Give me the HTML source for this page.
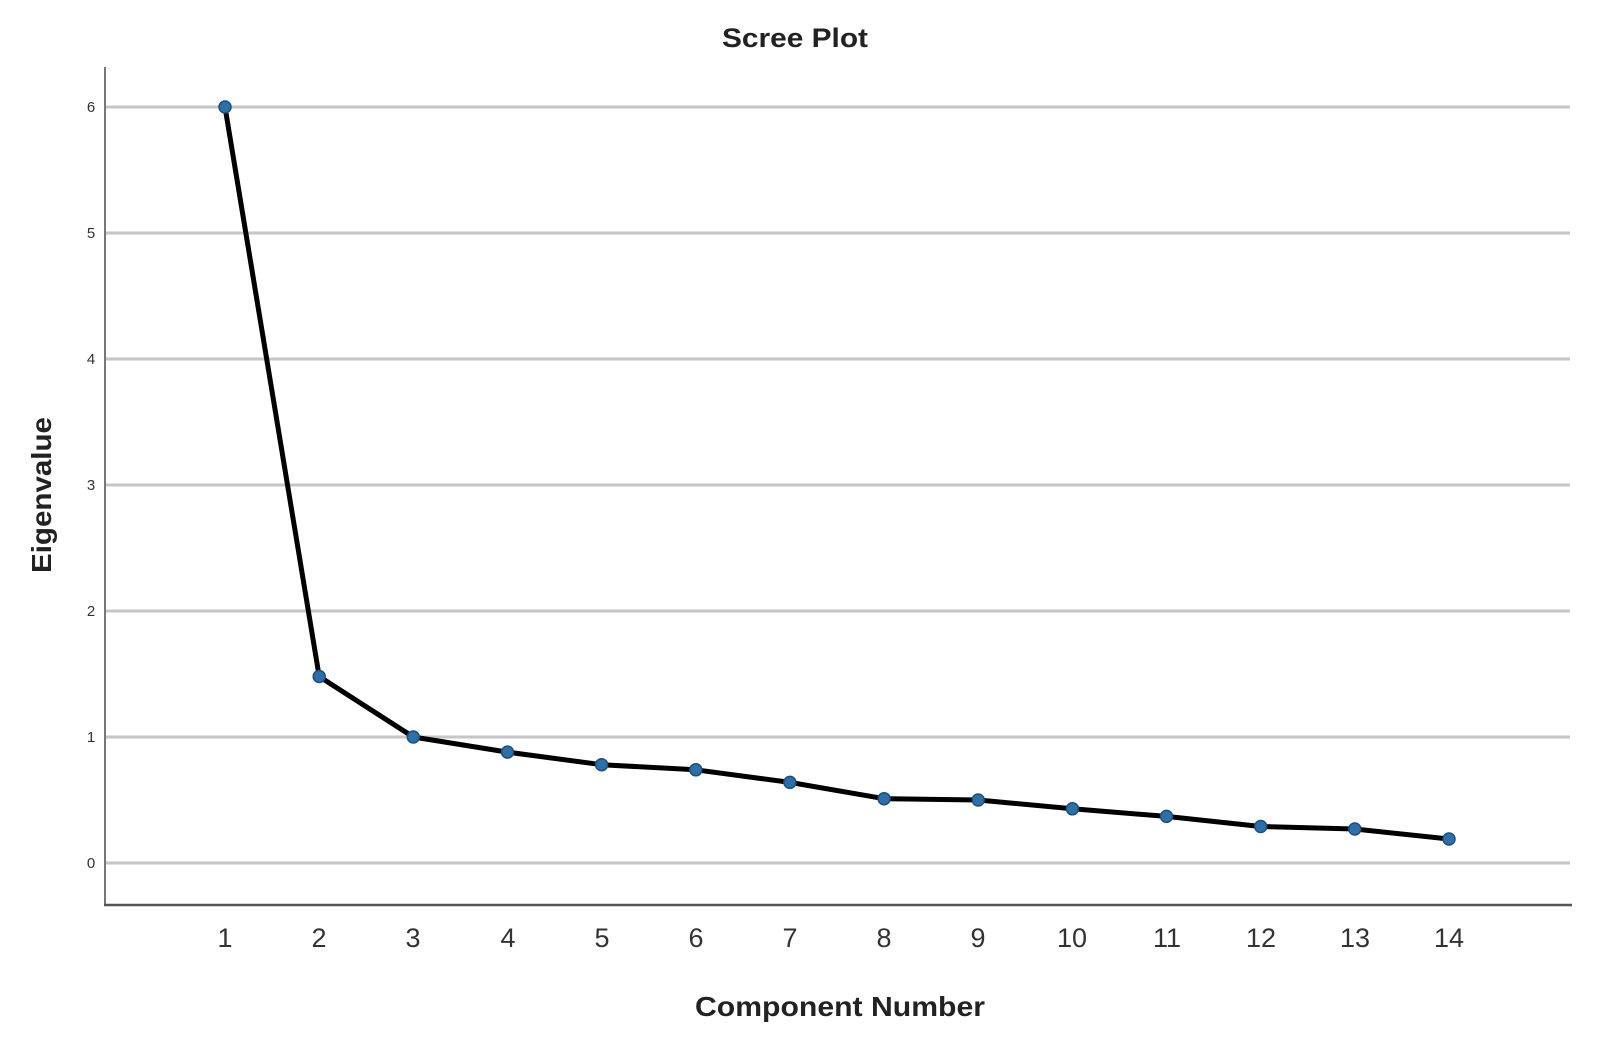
<!DOCTYPE html>
<html><head><meta charset="utf-8"><style>
html,body{margin:0;padding:0;background:#fff;}
svg{display:block;}
text{font-family:"Liberation Sans",sans-serif;}
</style></head><body>
<svg width="1600" height="1043" viewBox="0 0 1600 1043" xmlns="http://www.w3.org/2000/svg">
<rect width="1600" height="1043" fill="#fff"/>
<text x="795" y="47" font-size="27" font-weight="bold" fill="#222" text-anchor="middle" textLength="146" lengthAdjust="spacingAndGlyphs">Scree Plot</text>
<g stroke="#c6c6c6" stroke-width="3">
<line x1="106" y1="107" x2="1570" y2="107"/>
<line x1="106" y1="233" x2="1570" y2="233"/>
<line x1="106" y1="359" x2="1570" y2="359"/>
<line x1="106" y1="485" x2="1570" y2="485"/>
<line x1="106" y1="611" x2="1570" y2="611"/>
<line x1="106" y1="737" x2="1570" y2="737"/>
<line x1="106" y1="863" x2="1570" y2="863"/>
</g>
<line x1="105" y1="67" x2="105" y2="906" stroke="#777" stroke-width="2"/>
<line x1="104" y1="905" x2="1572" y2="905" stroke="#555" stroke-width="2.5"/>
<g font-size="15" fill="#333" text-anchor="middle">
<text x="91" y="112">6</text><text x="91" y="238">5</text><text x="91" y="364">4</text>
<text x="91" y="490">3</text><text x="91" y="616">2</text><text x="91" y="742">1</text><text x="91" y="868">0</text>
</g>
<g font-size="27" fill="#333" text-anchor="middle">
<text x="225" y="947">1</text><text x="319" y="947">2</text><text x="413" y="947">3</text><text x="508" y="947">4</text>
<text x="602" y="947">5</text><text x="696" y="947">6</text><text x="790" y="947">7</text><text x="884" y="947">8</text>
<text x="978" y="947">9</text><text x="1072" y="947">10</text><text x="1167" y="947">11</text><text x="1261" y="947">12</text>
<text x="1355" y="947">13</text><text x="1449" y="947">14</text>
</g>
<text x="840" y="1016" font-size="28" font-weight="bold" fill="#222" text-anchor="middle" textLength="290" lengthAdjust="spacingAndGlyphs">Component Number</text>
<text transform="translate(51,495) rotate(-90)" font-size="28" font-weight="bold" fill="#222" text-anchor="middle" textLength="156" lengthAdjust="spacingAndGlyphs">Eigenvalue</text>
<polyline fill="none" stroke="#000" stroke-width="5" stroke-linejoin="round" points="225,107 319.2,676.5 413.3,737 507.5,752.1 601.6,764.7 695.8,769.8 789.9,782.4 884.1,798.7 978.2,800 1072.4,808.8 1166.5,816.4 1260.7,826.5 1354.8,829 1449,839"/>
<g fill="#2f6fa8" stroke="#1d4f7c" stroke-width="1.5">
<circle cx="225" cy="107" r="6"/><circle cx="319.2" cy="676.5" r="6"/><circle cx="413.3" cy="737" r="6"/>
<circle cx="507.5" cy="752.1" r="6"/><circle cx="601.6" cy="764.7" r="6"/><circle cx="695.8" cy="769.8" r="6"/>
<circle cx="789.9" cy="782.4" r="6"/><circle cx="884.1" cy="798.7" r="6"/><circle cx="978.2" cy="800" r="6"/>
<circle cx="1072.4" cy="808.8" r="6"/><circle cx="1166.5" cy="816.4" r="6"/><circle cx="1260.7" cy="826.5" r="6"/>
<circle cx="1354.8" cy="829" r="6"/><circle cx="1449" cy="839" r="6"/>
</g>
</svg>
</body></html>
